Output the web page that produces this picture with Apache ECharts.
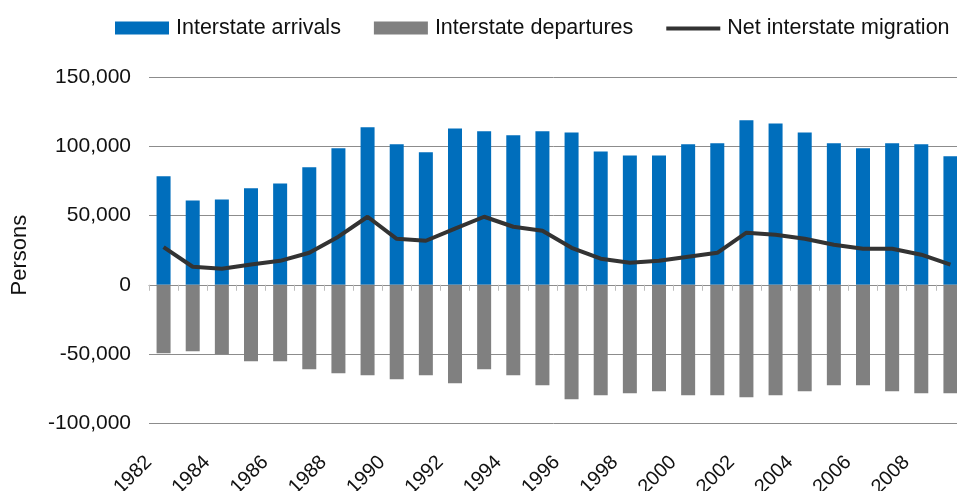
<!DOCTYPE html>
<html>
<head>
<meta charset="utf-8">
<script src="https://cdn.jsdelivr.net/npm/echarts@6/dist/echarts.min.js"></script>
<style>
html,body{margin:0;padding:0;background:#fff;}
#chart{width:957px;height:491px;}
</style>
</head>
<body>
<div id="chart"></div>
<script>
const years = ['1982','1983','1984','1985','1986','1987','1988','1989','1990','1991','1992','1993','1994','1995','1996','1997','1998','1999','2000','2001','2002','2003','2004','2005','2006','2007','2008','2009'];
const arrivals = [78300,60900,61600,69600,73200,84800,98500,113700,101400,95600,112900,110800,107900,110800,110000,96300,93400,93400,101400,102100,118700,116500,110000,102100,98500,102100,101400,92700];
const departures = [-49500,-48000,-50200,-55200,-55200,-61000,-63900,-65300,-68200,-65300,-71100,-61000,-65300,-72500,-82600,-79800,-78300,-76900,-79800,-79800,-81200,-79800,-76900,-72500,-72500,-76900,-78300,-78300];
const net = [27200,13000,11600,14700,17300,23100,34700,49100,33200,31800,40500,49100,41900,39000,26700,18800,15900,17300,20200,23100,37600,36100,33200,28900,26000,26000,21700,14500];
const yTicks = {min:-100000, max:150000, interval:50000};

const FONT = "'Liberation Sans', Arial, sans-serif";
const chart = echarts.init(document.getElementById('chart'), null, {renderer:'canvas'});
chart.setOption({
  animation:false,
  backgroundColor:'#fff',
  textStyle:{fontFamily:FONT},
  legend:{
    left:115, top:17, padding:0, itemWidth:54, itemHeight:13, itemGap:33,
    textStyle:{fontSize:21.5, color:'#111', fontFamily:FONT, padding:[0,0,0,2]},
    data:[
      {name:'Interstate arrivals', icon:'rect'},
      {name:'Interstate departures', icon:'rect'},
      {name:'Net interstate migration', icon:'path://M0,0 M0,5 L54,5 L54,9 L0,9 Z M54,13'}
    ]
  },
  grid:{left:149, right:-8, top:77, bottom:67.7, containLabel:false, outerBoundsMode:'none'},
  xAxis:[
    {type:'category', data:years, position:'bottom',
     axisLine:{show:false, onZero:false}, axisTick:{show:false},
     axisLabel:{interval:1, rotate:45, fontSize:20, color:'#111', fontFamily:FONT, margin:21, padding:[0,21,0,0]},
     splitLine:{show:false}},
    {type:'category', data:years, position:'bottom',
     axisLine:{show:true, onZero:true, lineStyle:{color:'#8c8c8c', width:1}},
     axisTick:{show:true, interval:0, length:6, lineStyle:{color:'#bdbdbd', width:1}},
     axisLabel:{show:false}, splitLine:{show:false}}
  ],
  yAxis:{
    type:'value', min:yTicks.min, max:yTicks.max, interval:yTicks.interval,
    name:'Persons', nameLocation:'middle', nameGap:118, nameRotate:90,
    nameTextStyle:{fontSize:22, color:'#111', fontFamily:FONT, padding:[0,10,0,0]},
    axisLine:{show:false}, axisTick:{show:false},
    axisLabel:{fontSize:21, color:'#111', margin:18, fontFamily:FONT,
      formatter:v=>v.toLocaleString('en-US')},
    splitLine:{show:true, lineStyle:{color:'#8c8c8c', width:1}}
  },
  series:[
    {name:'Interstate arrivals', type:'bar', data:arrivals, barWidth:14, barGap:'-100%',
     itemStyle:{color:'#006EBC'}},
    {name:'Interstate departures', type:'bar', data:departures, barWidth:14, barGap:'-100%',
     itemStyle:{color:'#808080'}},
    {name:'Net interstate migration', type:'line', data:net, symbol:'none', z:5,
     lineStyle:{color:'#333333', width:4}, itemStyle:{color:'#333333'}}
  ]
});
</script>
</body>
</html>
